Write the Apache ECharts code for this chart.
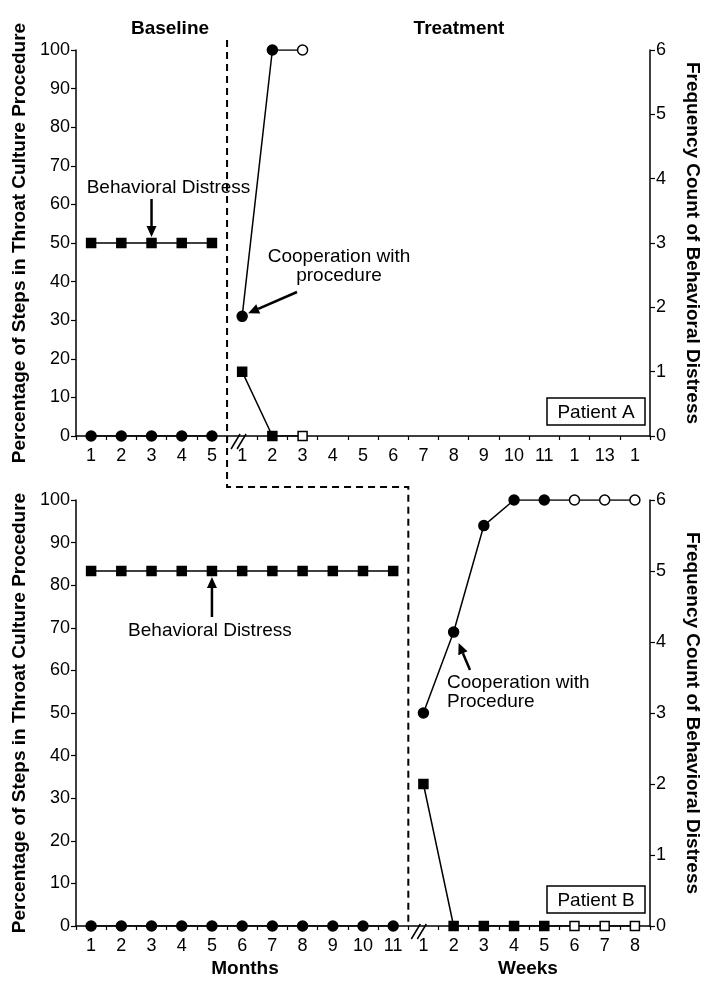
<!DOCTYPE html>
<html>
<head>
<meta charset="utf-8">
<script src="https://cdn.jsdelivr.net/npm/echarts@6/dist/echarts.min.js"></script>
<style>
  html, body { margin: 0; padding: 0; background: #fff; }
  #chart { width: 712px; height: 988px; }
</style>
</head>
<body>
<div id="chart"></div>
<script>
// session labels (top: baseline months 1-5, then treatment weeks; bottom: months 1-11, weeks 1-8)
const topLabels = ['1', '2', '3', '4', '5', '1', '2', '3', '4', '5', '6', '7', '8', '9', '10', '11', '1', '13', '1']
const bottomLabels = ['1', '2', '3', '4', '5', '6', '7', '8', '9', '10', '11', '1', '2', '3', '4', '5', '6', '7', '8']

// Patient A
const topBaseCoop = [0, 0, 0, 0, 0]
const topTreatCoop = [31, 100]
const topFollowCoop = [100]
const topBaseDistress = [3, 3, 3, 3, 3]
const topTreatDistress = [1, 0]
const topFollowDistress = [0]

// Patient B
const bottomBaseCoop = [0, 0, 0, 0, 0, 0, 0, 0, 0, 0, 0]
const bottomTreatCoop = [50, 69, 94, 100, 100]
const bottomFollowCoop = [100, 100, 100]
const bottomBaseDistress = [5, 5, 5, 5, 5, 5, 5, 5, 5, 5, 5]
const bottomTreatDistress = [2, 0, 0, 0, 0]
const bottomFollowDistress = [0, 0, 0]

const FONT = '"Liberation Sans", Arial, Helvetica, sans-serif'

// put filled + open (follow-up) points into a full-length array
function phase(start, filled, open, total) {
  const out = new Array(total).fill('-')
  filled.forEach((v, i) => { out[start + i] = v })
  open.forEach((v, i) => {
    out[start + filled.length + i] = { value: v, itemStyle: { color: '#fff' } }
  })
  return out
}

function line(name, idx, yIdx, data, symbol) {
  return {
    name,
    type: 'line',
    xAxisIndex: idx,
    yAxisIndex: yIdx,
    data,
    symbol,
    symbolSize: symbol === 'circle' ? 10 : 9,
    showAllSymbol: true,
    animation: false,
    z: 4,
    lineStyle: { color: '#000', width: 1.5 },
    itemStyle: { color: '#000', borderColor: '#000', borderWidth: 1.5 }
  }
}

function xAxis(gi, labels) {
  return {
    type: 'category',
    gridIndex: gi,
    data: labels,
    boundaryGap: true,
    axisLine: { lineStyle: { color: '#000', width: 1.5 } },
    axisTick: { show: true, length: 4, lineStyle: { color: '#000', width: 1.2 } },
    axisLabel: { color: '#000', fontSize: 18, fontFamily: FONT, margin: 11, interval: 0 }
  }
}

function leftAxis(gi) {
  return {
    type: 'value',
    gridIndex: gi,
    position: 'left',
    min: 0,
    max: 100,
    interval: 10,
    name: 'Percentage of Steps in Throat Culture Procedure',
    nameLocation: 'middle',
    nameRotate: 90,
    nameGap: 44,
    nameTextStyle: { color: '#000', fontSize: 19, fontWeight: 'bold', fontFamily: FONT },
    axisLine: { show: true, lineStyle: { color: '#000', width: 1.5 } },
    axisTick: { show: true, length: 5, lineStyle: { color: '#000', width: 1.2 } },
    axisLabel: { color: '#000', fontSize: 18, fontFamily: FONT, margin: 6 },
    splitLine: { show: false }
  }
}

function rightAxis(gi) {
  return {
    type: 'value',
    gridIndex: gi,
    position: 'right',
    min: 0,
    max: 6,
    interval: 1,
    name: 'Frequency Count of Behavioral Distress',
    nameLocation: 'middle',
    nameRotate: -90,
    nameGap: 33,
    nameTextStyle: { color: '#000', fontSize: 19, fontWeight: 'bold', fontFamily: FONT },
    axisLine: { show: true, lineStyle: { color: '#000', width: 1.5 } },
    axisTick: { show: true, length: 5, lineStyle: { color: '#000', width: 1.2 } },
    axisLabel: { color: '#000', fontSize: 18, fontFamily: FONT, margin: 6 },
    splitLine: { show: false }
  }
}

const nTop = topLabels.length
const nBot = bottomLabels.length

const option = {
  backgroundColor: '#fff',
  animation: false,
  grid: [
    { left: 76, right: 62, top: 50, height: 386 },
    { left: 76, right: 62, top: 500, height: 426 }
  ],
  xAxis: [xAxis(0, topLabels), xAxis(1, bottomLabels)],
  yAxis: [leftAxis(0), rightAxis(0), leftAxis(1), rightAxis(1)],
  series: [
    line('A baseline cooperation', 0, 0, phase(0, topBaseCoop, [], nTop), 'circle'),
    line('A treatment cooperation', 0, 0, phase(topBaseCoop.length, topTreatCoop, topFollowCoop, nTop), 'circle'),
    line('A baseline distress', 0, 1, phase(0, topBaseDistress, [], nTop), 'rect'),
    line('A treatment distress', 0, 1, phase(topBaseDistress.length, topTreatDistress, topFollowDistress, nTop), 'rect'),
    line('B baseline cooperation', 1, 2, phase(0, bottomBaseCoop, [], nBot), 'circle'),
    line('B treatment cooperation', 1, 2, phase(bottomBaseCoop.length, bottomTreatCoop, bottomFollowCoop, nBot), 'circle'),
    line('B baseline distress', 1, 3, phase(0, bottomBaseDistress, [], nBot), 'rect'),
    line('B treatment distress', 1, 3, phase(bottomBaseDistress.length, bottomTreatDistress, bottomFollowDistress, nBot), 'rect')
  ]
}

const chart = echarts.init(document.getElementById('chart'), null, { renderer: 'canvas' })
chart.setOption(option)

const px = (si, i, v) => chart.convertToPixel({ seriesIndex: si }, [i, v])

function arrow(x1, y1, x2, y2) {
  const a = Math.atan2(y2 - y1, x2 - x1)
  const L = 11, W = 5
  const bx = x2 - L * Math.cos(a), by = y2 - L * Math.sin(a)
  return [
    { type: 'line', silent: true, shape: { x1, y1, x2: bx, y2: by }, style: { stroke: '#000', lineWidth: 2.5 } },
    {
      type: 'polygon', silent: true,
      shape: { points: [[x2, y2], [bx + W * Math.sin(a), by - W * Math.cos(a)], [bx - W * Math.sin(a), by + W * Math.cos(a)]] },
      style: { fill: '#000' }
    }
  ]
}

function text(str, x, y, opts) {
  return {
    type: 'text', silent: true, x, y,
    style: Object.assign({
      text: str, fill: '#000', fontSize: 19, fontFamily: FONT,
      align: 'center', verticalAlign: 'middle'
    }, opts || {})
  }
}

function box(str, x, y, w, h) {
  return [
    { type: 'rect', silent: true, shape: { x, y, width: w, height: h }, style: { fill: '#fff', stroke: '#000', lineWidth: 1.5 } },
    text(str, x + w / 2, y + h / 2 + 1)
  ]
}

function breakMark(cx, cy) {
  return [-3, 3].map(d => ({
    type: 'line', silent: true,
    shape: { x1: cx + d - 5, y1: cy + 8, x2: cx + d + 4, y2: cy - 7 },
    style: { stroke: '#000', lineWidth: 1.5 }
  }))
}

// phase change line and anchors
const xA = (px(0, topBaseCoop.length - 1, 0)[0] + px(0, topBaseCoop.length, 0)[0]) / 2
const topAxisY = px(0, 0, 0)[1]
const xB = (px(4, bottomBaseCoop.length - 1, 0)[0] + px(4, bottomBaseCoop.length, 0)[0]) / 2
const botAxisY = px(4, 0, 0)[1]
const midY = 487

const aSq = px(2, 2, topBaseDistress[2])
const aCirc = px(1, topBaseCoop.length, topTreatCoop[0])
const bSq = px(6, 4, bottomBaseDistress[4])
const bCirc = px(5, bottomBaseCoop.length + 1, bottomTreatCoop[1])

const graphics = [
  {
    type: 'polyline', silent: true, z: 1,
    shape: { points: [[xA, 40], [xA, midY], [xB, midY], [xB, botAxisY]] },
    style: { stroke: '#000', lineWidth: 2, lineDash: [7, 5], fill: null }
  },
  ...breakMark(xA + 12, topAxisY + 5),
  ...breakMark(xB + 11, botAxisY + 5),
  text('Baseline', 170, 29, { fontWeight: 'bold' }),
  text('Treatment', 459, 29, { fontWeight: 'bold' }),
  text('Behavioral Distress', aSq[0] + 17, 188),
  ...arrow(aSq[0], 199, aSq[0], aSq[1] - 6),
  text('Cooperation with', 339, 257),
  text('procedure', 339, 276),
  ...arrow(297, 292, aCirc[0] + 6, aCirc[1] - 3),
  ...box('Patient A', 547, 398, 98, 27),
  text('Behavioral Distress', bSq[0] - 2, 631),
  ...arrow(bSq[0], 617, bSq[0], bSq[1] + 6),
  text('Cooperation with', 447, 683, { align: 'left' }),
  text('Procedure', 447, 702, { align: 'left' }),
  ...arrow(470, 670, bCirc[0] + 5, bCirc[1] + 11),
  ...box('Patient B', 547, 886, 98, 27),
  text('Months', 245, 969, { fontWeight: 'bold' }),
  text('Weeks', 528, 969, { fontWeight: 'bold' })
]

chart.setOption({ graphic: { elements: graphics } })
</script>
</body>
</html>
